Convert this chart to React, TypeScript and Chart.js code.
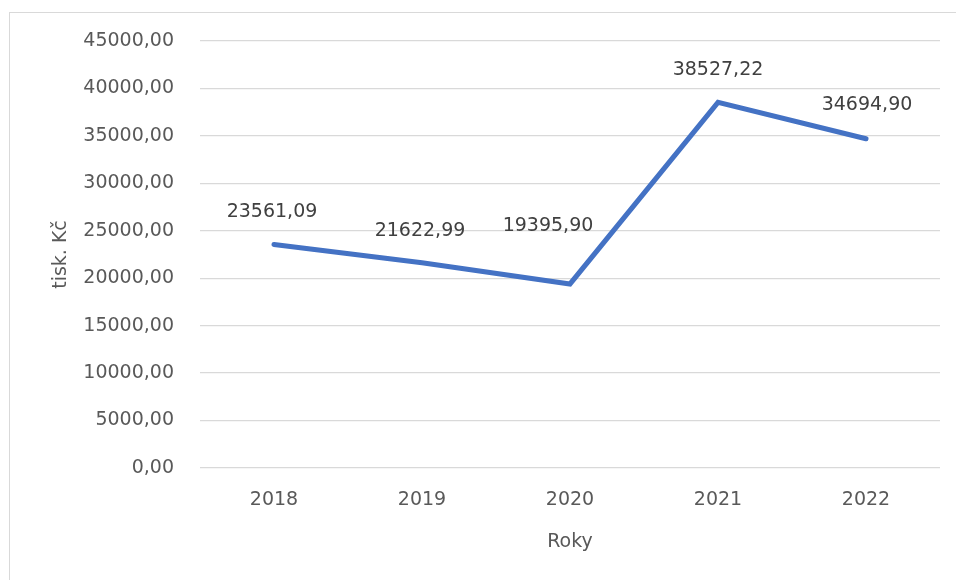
import React, { useEffect, useRef } from "react";
import { Chart, registerables } from "chart.js";

Chart.register(...registerables);

const years = ["2018", "2019", "2020", "2021", "2022"];
const values = [23561.09, 21622.99, 19395.9, 38527.22, 34694.9];
const yMin = 0;
const yMax = 45000;
const yStep = 5000;
const xTitle = "Roky";
const yTitle = "tisk. Kč";

// label offsets (pixels) relative to the point: style only
const labelDx = [-2, -2, -22, 0, 1];
const labelDy = [-32, -32, -58, -32, -34];

const FONT = "'DejaVu Sans', sans-serif";
const fmt = (v: number) => v.toFixed(2).replace(".", ",");

const dataLabels = {
  id: "dataLabels",
  afterDatasetsDraw(chart: any) {
    const ctx = chart.ctx;
    const meta = chart.getDatasetMeta(0);
    ctx.save();
    ctx.font = `19px ${FONT}`;
    ctx.fillStyle = "#404040";
    ctx.textAlign = "center";
    ctx.textBaseline = "middle";
    meta.data.forEach((pt: any, i: number) => {
      ctx.fillText(fmt(values[i]), pt.x + labelDx[i], pt.y + labelDy[i]);
    });
    ctx.restore();
  },
};

export default function App() {
  const ref = useRef<HTMLCanvasElement>(null);
  useEffect(() => {
    if (!ref.current) return;
    const chart = new Chart(ref.current, {
      type: "line",
      data: {
        labels: years,
        datasets: [
          {
            data: values,
            borderColor: "#4472c4",
            borderWidth: 5,
            pointRadius: 0,
            pointHoverRadius: 0,
            tension: 0,
            borderCapStyle: "round",
            borderJoinStyle: "miter",
            fill: false,
          },
        ],
      },
      options: {
        animation: false,
        responsive: false,
        maintainAspectRatio: false,
        layout: { padding: { left: 0, right: 16, top: 41, bottom: 0 } },
        plugins: {
          legend: { display: false },
          tooltip: { enabled: false },
          title: { display: false },
        },
        scales: {
          x: {
            offset: true,
            grid: { display: false, drawTicks: false },
            border: { display: false },
            ticks: {
              color: "#595959",
              font: { family: FONT, size: 19 },
              padding: 21,
              maxRotation: 0,
            },
            title: {
              display: true,
              text: xTitle,
              color: "#595959",
              font: { family: FONT, size: 19 },
              padding: { top: 0, bottom: 27 },
            },
            afterFit: (s: any) => {
              s.height = 112;
            },
          },
          y: {
            min: yMin,
            max: yMax,
            grid: { color: "#d9d9d9", lineWidth: 1.3, drawTicks: false },
            border: { display: false },
            ticks: {
              stepSize: yStep,
              color: "#595959",
              font: { family: FONT, size: 19 },
              padding: 26,
              callback: (v: any) => fmt(Number(v)),
            },
            title: {
              display: true,
              text: yTitle,
              color: "#595959",
              font: { family: FONT, size: 19 },
              padding: { top: 50, bottom: 0 },
            },
            afterFit: (s: any) => {
              s.width = 200;
            },
          },
        },
      },
      plugins: [dataLabels],
    });
    return () => chart.destroy();
  }, []);

  return (
    <div
      style={{
        position: "fixed",
        left: 0,
        top: 0,
        width: 956,
        height: 580,
        overflow: "hidden",
        background: "#ffffff",
      }}
    >
      <div
        style={{
          position: "absolute",
          left: 9,
          top: 12,
          width: 1000,
          height: 1000,
          border: "1px solid #d9d9d9",
          boxSizing: "border-box",
        }}
      />
      <canvas
        ref={ref}
        width={956}
        height={580}
        style={{ position: "absolute", left: 0, top: 0, width: 956, height: 580 }}
      />
    </div>
  );
}
